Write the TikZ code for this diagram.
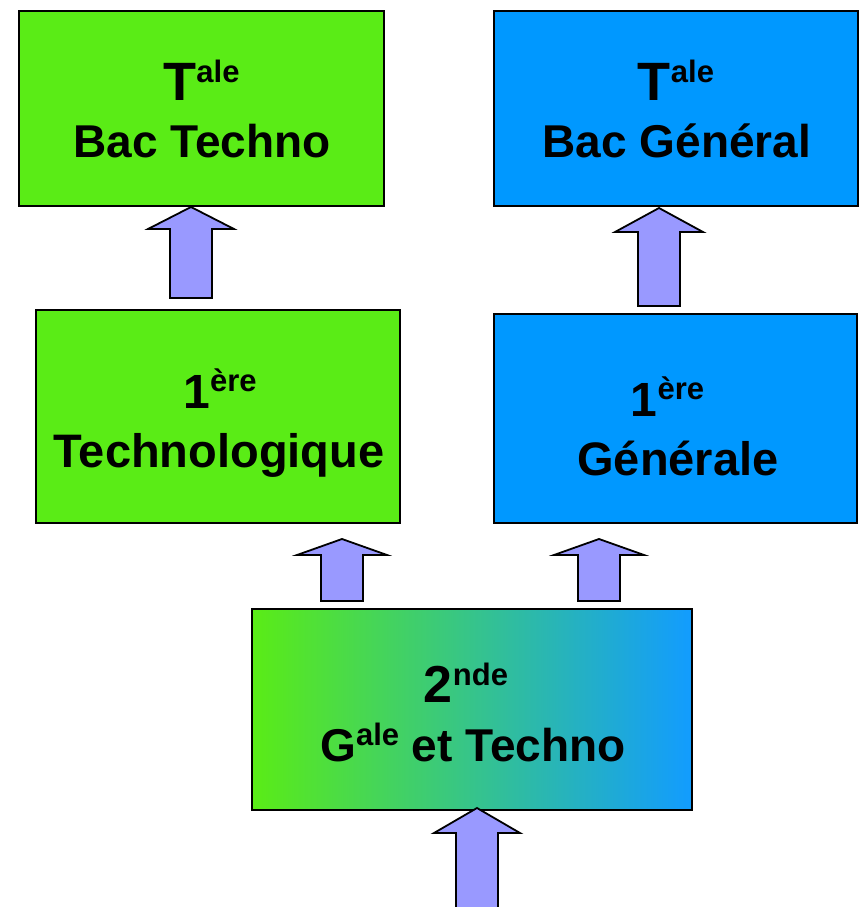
\documentclass[tikz,border=0pt]{standalone}
\usepackage{fontspec}
\setmainfont{Liberation Sans}

\definecolor{techgreen}{RGB}{90,236,22}
\definecolor{genblue}{RGB}{0,152,255}
\definecolor{midteal}{RGB}{62,204,165}
\definecolor{endblue}{RGB}{18,156,255}
\definecolor{arrowfill}{RGB}{153,153,255}

\newcommand{\fs}[1]{\fontsize{#1bp}{#1bp}\selectfont}
\newcommand{\expo}[3]{\raisebox{#2bp}{\fs{#1}#3}}
\newcommand{\blockarr}[7]{%
  \coordinate (#1) at (#2,#3);
  \path[blockarrow] (#1) -- (#2+#6,#4) -- (#2+#7,#4) -- (#2+#7,#5)
    -- (#2-#7,#5) -- (#2-#7,#4) -- (#2-#6,#4) -- cycle;}

\tikzset{
  stage/.style={rectangle,draw=black,line width=2.5bp,inner sep=0pt},
  line/.style={anchor=base,inner sep=0pt,font=\bfseries},
  blockarrow/.style={draw=black,fill=arrowfill,line width=1.8bp,line join=miter}
}

\begin{document}
\begin{tikzpicture}[x=1bp,y=-1bp]
      \useasboundingbox (0,0) rectangle (860,907);

      \begin{scope}[every node/.style={stage}]
        \node[fill=techgreen,minimum width=365bp,minimum height=195bp] (tbt) at (201.5,108.5) {};
        \node[fill=genblue,minimum width=364bp,minimum height=195bp]   (tbg) at (676,108.5)   {};
        \node[fill=techgreen,minimum width=364bp,minimum height=213bp] (pt)  at (218,416.5)   {};
        \node[fill=genblue,minimum width=363bp,minimum height=209bp]   (pg)  at (675.5,418.5) {};
        \node[left color=techgreen,middle color=midteal,right color=endblue,
              minimum width=440bp,minimum height=201bp]                (sec) at (472,709.5)   {};
      \end{scope}

      \begin{scope}[every node/.style={line}]
        \node (tbt1) at (201.5,100) {\fs{54}T\expo{31}{18}{ale}};
        \node (tbt2) at (202,157)   {\fs{46}Bac Techno};
        \node (tbg1) at (676,100)   {\fs{54}T\expo{31}{18}{ale}};
        \node (tbg2) at (677,157)   {\fs{46}Bac Général};
        \node (pt1)  at (220,408)   {\fs{48}1\expo{31}{17}{ère}};
        \node (pt2)  at (219,467)   {\fs{47}Technologique};
        \node (pg1)  at (667.5,416) {\fs{48}1\expo{31}{17}{ère}};
        \node (pg2)  at (678,475)   {\fs{47}Générale};
        \node (sec1) at (466,702)   {\fs{52}2\expo{31}{17}{nde}};
        \node (sec2) at (473,761)   {\fs{46}G\expo{31}{16}{ale} et Techno};
      \end{scope}

      \blockarr{up1}{191}{207}{229}{298}{43}{21}
      \blockarr{up2}{659}{208}{232}{306}{44}{21}
      \blockarr{up3}{342}{539}{555}{601}{45}{21}
      \blockarr{up4}{599}{539}{555}{601}{45}{21}
      \blockarr{up5}{477}{808}{833}{912}{43}{21}

    \end{tikzpicture}
\end{document}
